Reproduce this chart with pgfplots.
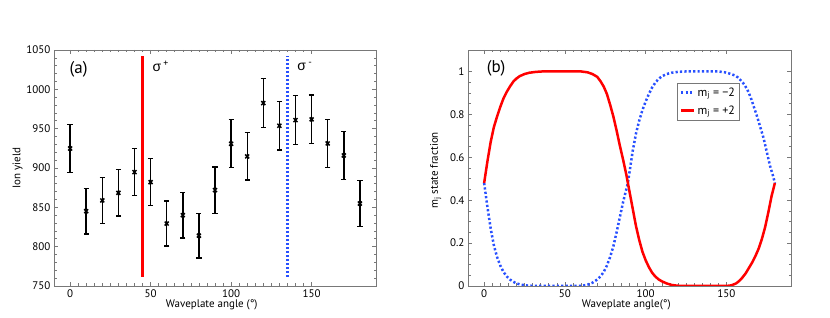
\documentclass[border=0pt]{standalone}
\usepackage{fontspec}
\setmainfont{PT Sans}
\newfontfamily\greekfont{Liberation Sans}
\usepackage{pgfplots}
\pgfplotsset{compat=1.18}
\definecolor{myred}{RGB}{255,0,0}
\definecolor{myblue}{RGB}{40,80,255}
\definecolor{framegray}{RGB}{120,120,120}
\begin{document}
\begin{tikzpicture}
\pgfplotsset{
  panel/.style={
    scale only axis, anchor=south west, height=236pt,
    axis line style={framegray, line width=0.8pt},
    tick style={framegray, line width=0.6pt},
    major tick length=4pt, minor tick length=2.5pt,
    tick align=inside,
    tick label style={font=\fontsize{11}{13}\selectfont, black},
    label style={font=\fontsize{11}{13}\selectfont},
    /pgf/number format/assume math mode=true,
    /pgf/number format/1000 sep={},
    xmin=-10, xmax=190, xtick={0,50,100,150}, minor x tick num=9,
    xlabel style={at={(axis description cs:0.49,0)}, anchor=center, yshift=-19pt},
  }
}
\path[use as bounding box] (0,0) rectangle (830pt,318pt);

% ---------------- panel (a)
\begin{axis}[panel, at={(54pt,32pt)}, width=322pt,
  ymin=750, ymax=1050, ytick={750,800,850,900,950,1000,1050}, minor y tick num=4,
  xlabel={Waveplate angle (°)}, ylabel={Ion yield},
  ylabel style={at={(axis description cs:-0.113,0.5)}, anchor=center},
]
\addplot[myred, line width=2.5pt, forget plot] coordinates {(45,762) (45,1042)};
\addplot[myblue, line width=2.3pt, dash pattern=on 2pt off 2pt, forget plot] coordinates {(135,762) (135,1042)};
\addplot[black, only marks, mark=x, mark size=2.8pt, line width=1.5pt,
  error bars/.cd, y dir=both, y explicit,
  error bar style={line width=1.4pt},
  error mark options={rotate=90, mark size=2.6pt, line width=1.4pt}]
  table[x=x, y=y, y error=e] {
x y e
0 924.8 30.4
10 845.1 29.1
20 858.7 29.3
30 868.4 29.5
40 894.7 29.9
50 882.0 29.7
60 829.4 28.8
70 840.0 29.0
80 814.0 28.5
90 871.8 29.5
100 930.8 30.5
110 914.7 30.2
120 982.5 31.3
130 953.7 30.9
140 960.9 31.0
150 961.8 31.0
160 931.2 30.5
170 915.9 30.2
180 854.8 29.2
};
\node[anchor=west, font=\fontsize{17}{20}\selectfont] at (axis cs:-2.5,1026) {(a)};
\node[anchor=west, font=\fontsize{14}{16}\selectfont] at (axis cs:49,1029) {{\greekfont σ}\,\textsuperscript{+}};
\node[anchor=west, font=\fontsize{14}{16}\selectfont] at (axis cs:139,1029) {{\greekfont σ}\,\textsuperscript{-}};
\end{axis}

% ---------------- panel (b)
\begin{axis}[panel, at={(468pt,32pt)}, width=323pt,
  ymin=0, ymax=1.1, ytick={0,0.2,0.4,0.6,0.8,1}, minor y tick num=3,
  xlabel={Waveplate angle(°)}, ylabel={m\textsubscript{j} state fraction},
  ylabel style={at={(axis description cs:-0.10,0.49)}, anchor=center},
  legend style={at={(0.648,0.861)}, anchor=north west, draw=framegray,
    font=\fontsize{12}{14}\selectfont, inner sep=2.5pt, row sep=4pt},
  legend cell align=left,
  legend image code/.code={\draw[#1] (0pt,0pt) -- (13pt,0pt);},
]
\addplot[myblue, line width=2.5pt, dash pattern=on 2.2pt off 2.2pt] coordinates {
(0,0.48)(2,0.37)(4,0.27)(6,0.19)(8,0.135)(10,0.095)(12,0.065)(14,0.045)(16,0.03)(18,0.02)(20,0.012)(23,0.006)(27,0.002)(32,0)(60,0)(64,0.006)(67,0.015)(70,0.03)(72,0.045)(74,0.065)(76,0.095)(78,0.135)(80,0.185)(82,0.25)(84,0.32)(86,0.39)(88,0.45)(89,0.48)(90,0.53)(92,0.63)(94,0.71)(96,0.77)(98,0.82)(100,0.86)(102,0.895)(104,0.925)(106,0.948)(108,0.965)(110,0.977)(113,0.988)(116,0.994)(120,0.998)(125,1)(145,1)(149,0.996)(152,0.99)(155,0.982)(157,0.973)(159,0.958)(161,0.94)(163,0.915)(165,0.88)(167,0.835)(169,0.79)(171,0.74)(173,0.69)(175,0.625)(177,0.56)(179,0.51)(180,0.48)};
\addlegendentry{m\textsubscript{j} = −2}
\addplot[myred, line width=2.5pt, line join=round] coordinates {
(0,0.48)(2,0.58)(4,0.67)(6,0.74)(8,0.79)(10,0.835)(12,0.875)(14,0.905)(16,0.93)(18,0.952)(20,0.967)(22,0.978)(25,0.988)(28,0.994)(32,0.998)(36,1.0)(60,1.0)(64,0.996)(67,0.988)(70,0.975)(72,0.955)(74,0.93)(76,0.895)(78,0.845)(80,0.79)(82,0.725)(84,0.655)(86,0.59)(88,0.52)(89,0.48)(90,0.44)(92,0.36)(94,0.28)(96,0.215)(98,0.16)(100,0.12)(102,0.088)(104,0.062)(106,0.044)(108,0.031)(110,0.022)(113,0.012)(116,0.005)(120,0.001)(125,0)(150,0)(153,0.003)(156,0.012)(158,0.024)(160,0.04)(162,0.06)(164,0.085)(166,0.11)(168,0.14)(170,0.175)(172,0.22)(174,0.275)(176,0.345)(178,0.42)(180,0.48)};
\addlegendentry{m\textsubscript{j} = +2}
\node[anchor=west, font=\fontsize{17}{20}\selectfont] at (axis cs:-0.5,1.016) {(b)};
\end{axis}
\end{tikzpicture}
\end{document}
